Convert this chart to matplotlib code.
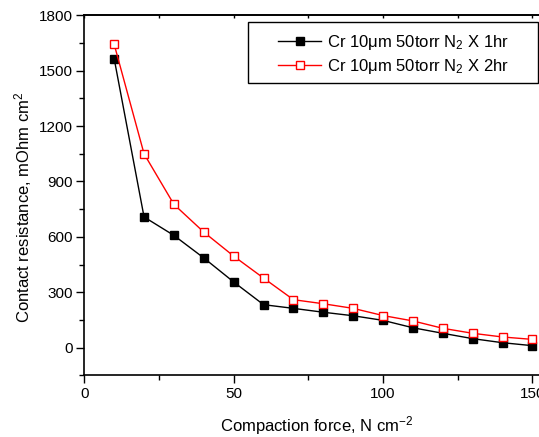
import matplotlib
matplotlib.use("Agg")
import matplotlib.pyplot as plt
from matplotlib.patches import Rectangle
from matplotlib.ticker import MultipleLocator

plt.rcParams['font.family'] = ['Liberation Sans', 'DejaVu Sans']
plt.rcParams['mathtext.fontset'] = 'custom'
plt.rcParams['mathtext.rm'] = 'Liberation Sans'
plt.rcParams['mathtext.it'] = 'Liberation Sans'

force = [10, 20, 30, 40, 50, 60, 70, 80, 90, 100, 110, 120, 130, 140, 150]
res_1hr = [1565, 708, 608, 486, 356, 233, 213, 192, 173, 148, 108, 78, 49, 27, 11]
res_2hr = [1643, 1050, 776, 626, 496, 377, 260, 238, 213, 174, 145, 105, 78, 58, 45]
labels = ['Cr 10\u03bcm 50torr N$_2$ X 1hr', 'Cr 10\u03bcm 50torr N$_2$ X 2hr']

W, H = 539, 437
fig = plt.figure(figsize=(W / 100, H / 100), dpi=100)
ax = fig.add_axes([84.3 / W, 1 - 375.4 / H, 478 / W, 360.1 / H])

ax.plot(force, res_1hr, color='black', lw=1, marker='s', ms=5.5,
        mfc='black', mec='black', label=labels[0])
ax.plot(force, res_2hr, color='red', lw=1, marker='s', ms=5.5,
        mfc='white', mec='red', mew=1, label=labels[1])

ax.set_xlim(0, 160)
ax.set_ylim(-150, 1800)
ax.xaxis.set_major_locator(MultipleLocator(50))
ax.xaxis.set_minor_locator(MultipleLocator(25))
ax.yaxis.set_major_locator(MultipleLocator(300))
ax.yaxis.set_minor_locator(MultipleLocator(150))
ax.tick_params(which='major', direction='out', length=5.5, width=1,
               labelsize=11, right=False, top=False, pad=3)
ax.tick_params(which='minor', direction='out', length=3.5, width=1,
               right=False, top=False)
for sp in ax.spines.values():
    sp.set_linewidth(1.2)
ax.spines['right'].set_visible(False)

# small inward ticks along the top edge
top = ax.secondary_xaxis('top')
top.xaxis.set_major_locator(MultipleLocator(25))
top.tick_params(direction='in', length=2.5, width=1, labeltop=False)
top.spines['top'].set_linewidth(1.2)

ax.set_xlabel('Compaction force, N cm$^{-2}$', fontsize=12, labelpad=9)
ax.set_ylabel('Contact resistance, mOhm cm$^{2}$', fontsize=12, labelpad=3.5)
ax.xaxis.label.set_x(0.485)
ax.yaxis.label.set_y(0.468)

# legend box drawn as in the original (wide padding around the entries)
box = Rectangle((248 / W, 1 - 83 / H), 290 / W, 61 / H,
                transform=fig.transFigure, facecolor='white',
                edgecolor='black', lw=1, zorder=5, clip_on=False)
ax.add_patch(box)
leg = ax.legend(loc='center left', bbox_to_anchor=(278 / W, 1 - 54 / H),
                bbox_transform=fig.transFigure, borderaxespad=0, borderpad=0,
                fontsize=12, handlelength=2.6, handletextpad=0.35,
                frameon=False, labelspacing=0.3)
leg.set_zorder(6)

fig.savefig('out.png', dpi=100)
